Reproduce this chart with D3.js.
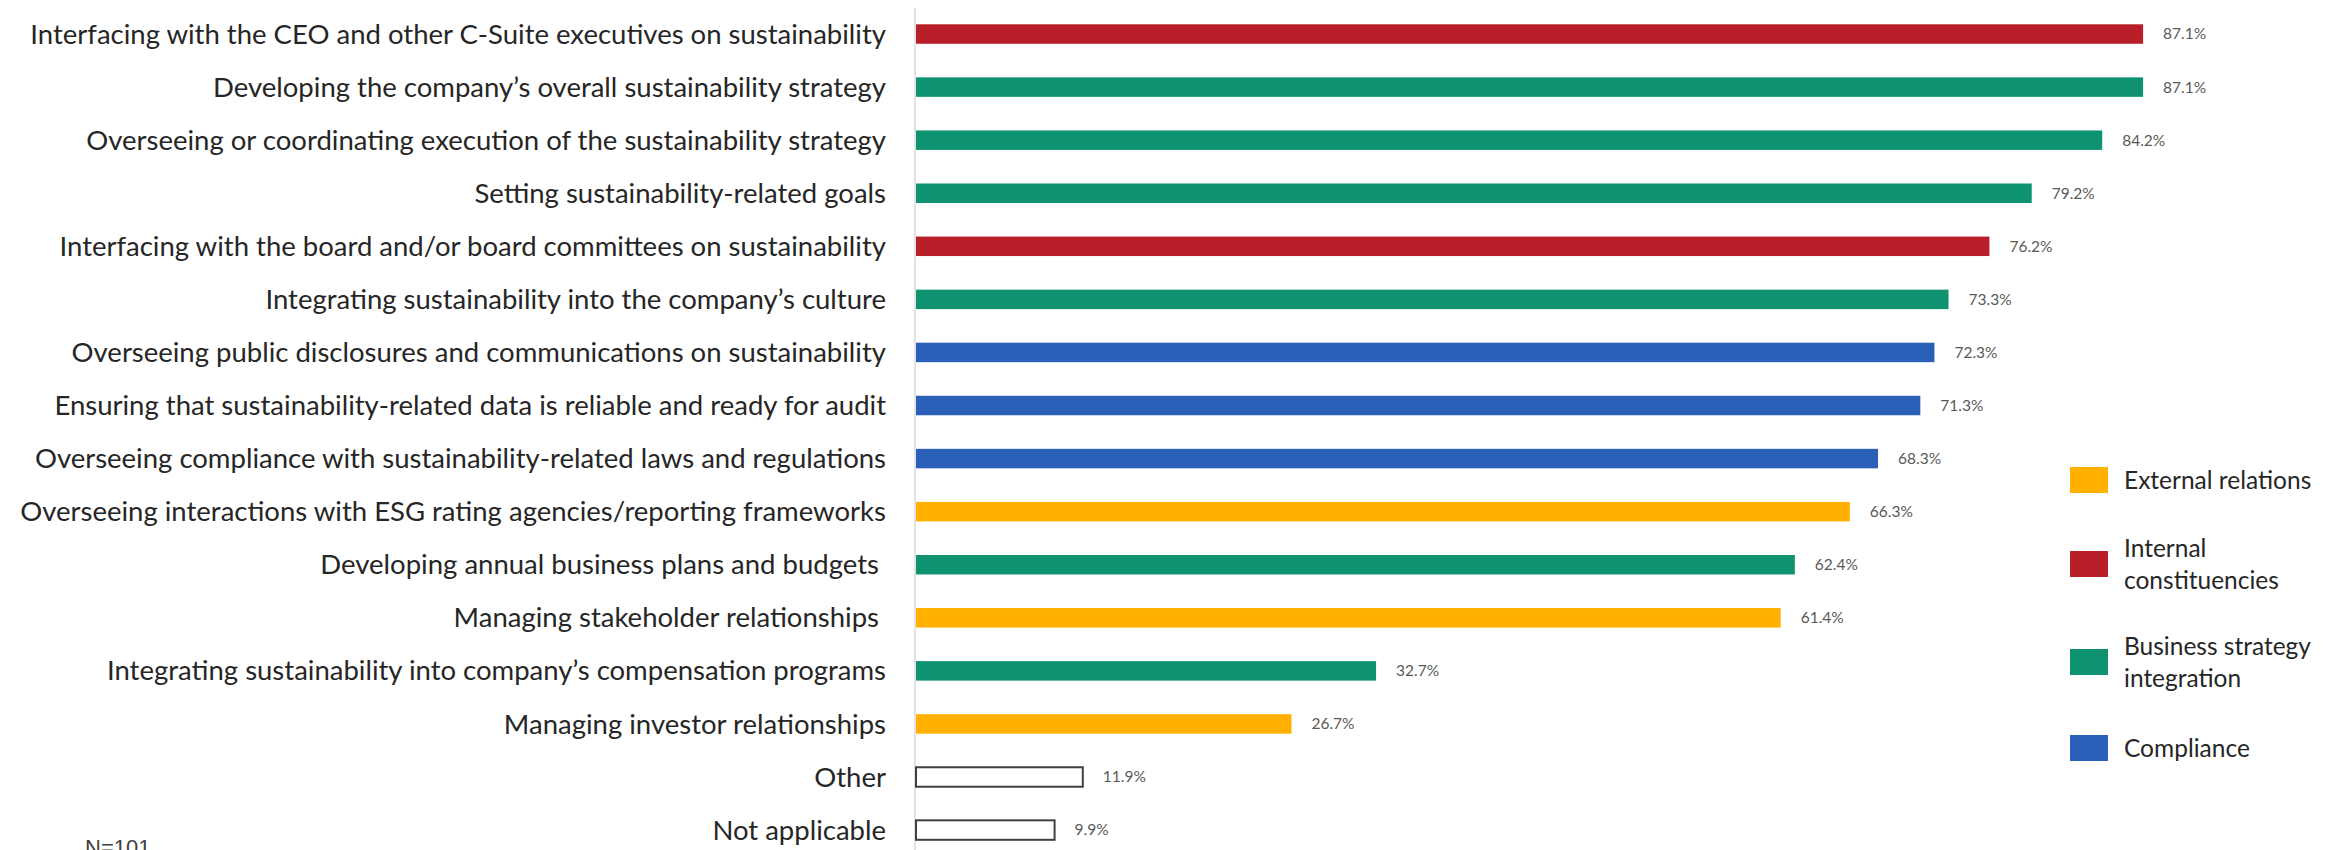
<!DOCTYPE html>
<html>
<head>
<meta charset="utf-8">
<script src="https://cdn.jsdelivr.net/npm/d3@7/dist/d3.min.js"></script>
<style>
  html, body { margin: 0; padding: 0; background: #fff; }
  svg { display: block; }
  text { white-space: pre; }
</style>
</head>
<body>
<svg id="chart" width="2343" height="850"></svg>
<script>
// Responsibilities of the sustainability lead, share of respondents (%)
const tasks = [
  "Interfacing with the CEO and other C-Suite executives on sustainability",
  "Developing the company\u2019s overall sustainability strategy",
  "Overseeing or coordinating execution of the sustainability strategy",
  "Setting sustainability-related goals",
  "Interfacing with the board and/or board committees on sustainability",
  "Integrating sustainability into the company\u2019s culture",
  "Overseeing public disclosures and communications on sustainability",
  "Ensuring that sustainability-related data is reliable and ready for audit",
  "Overseeing compliance with sustainability-related laws and regulations",
  "Overseeing interactions with ESG rating agencies/reporting frameworks",
  "Developing annual business plans and budgets ",
  "Managing stakeholder relationships ",
  "Integrating sustainability into company\u2019s compensation programs",
  "Managing investor relationships",
  "Other",
  "Not applicable"
];
const shares = [87.1, 87.1, 84.2, 79.2, 76.2, 73.3, 72.3, 71.3, 68.3, 66.3, 62.4, 61.4, 32.7, 26.7, 11.9, 9.9];
const groups = [
  "Internal constituencies", "Business strategy integration", "Business strategy integration",
  "Business strategy integration", "Internal constituencies", "Business strategy integration",
  "Compliance", "Compliance", "Compliance", "External relations", "Business strategy integration",
  "External relations", "Business strategy integration", "External relations", "None", "None"
];
const legendGroups = ["External relations", "Internal constituencies", "Business strategy integration", "Compliance"];
const legendLines = [["External relations"], ["Internal", "constituencies"], ["Business strategy", "integration"], ["Compliance"]];
const groupColors = ["#FFB000", "#B81F28", "#0E9270", "#2A60B8"];
const sampleNote = "N=101";

const rows = tasks.map((t, i) => ({ task: t, value: shares[i], group: groups[i] }));

const svg = d3.select("#chart");
const labelFont = "Lato, 'Open Sans', sans-serif";

const x = d3.scaleLinear().domain([0, 100]).range([915, 2325]);
const y = d3.scaleBand().domain(tasks).range([7.5, 856.6]).paddingInner(0.633).paddingOuter(0.3165);
const color = d3.scaleOrdinal().domain(legendGroups).range(groupColors).unknown("#fff");

// category axis: a plain vertical rule with labels to its left
const yAxis = d3.axisLeft(y).tickSize(0).tickPadding(29);
const gy = svg.append("g").attr("transform", `translate(${x(0)},0)`).call(yAxis);
gy.select(".domain").remove();
gy.selectAll("text")
  .attr("font-family", labelFont)
  .attr("font-size", 27.5)
  .attr("fill", "#262626")
  .attr("dy", "0.35em");

svg.append("line")
  .attr("x1", x(0)).attr("x2", x(0))
  .attr("y1", 8).attr("y2", 850)
  .attr("stroke", "#d9d9d9").attr("stroke-width", 1.5);

// bars
svg.append("g").selectAll("rect").data(rows).join("rect")
  .attr("x", x(0) + 1)
  .attr("y", d => y(d.task))
  .attr("width", d => x(d.value) - x(0) - 1)
  .attr("height", y.bandwidth())
  .attr("fill", d => color(d.group))
  .attr("stroke", d => d.group === "None" ? "#404040" : "none")
  .attr("stroke-width", 2);

// value labels
svg.append("g").selectAll("text").data(rows).join("text")
  .attr("x", d => x(d.value) + 20)
  .attr("y", d => y(d.task) + y.bandwidth() / 2)
  .attr("dy", "0.35em")
  .attr("font-family", labelFont)
  .attr("font-size", 15.5)
  .attr("fill", "#595959")
  .text(d => d.value.toFixed(1) + "%");

// legend
const legendY = [480, 564, 662, 748];
const lg = svg.append("g");
legendGroups.forEach((g, i) => {
  lg.append("rect")
    .attr("x", 2070).attr("y", legendY[i] - 13)
    .attr("width", 38).attr("height", 26)
    .attr("fill", color(g));
  const lines = legendLines[i];
  lines.forEach((ln, j) => {
    lg.append("text")
      .attr("x", 2124)
      .attr("y", legendY[i] + (j - (lines.length - 1) / 2) * 32)
      .attr("dy", "0.35em")
      .attr("font-family", labelFont)
      .attr("font-size", 24.5)
      .attr("fill", "#262626")
      .text(ln);
  });
});

svg.append("text")
  .attr("x", 85).attr("y", 855)
  .attr("font-family", "'Liberation Sans', Arial, sans-serif")
  .attr("font-size", 22)
  .attr("fill", "#404040")
  .text(sampleNote);
</script>
</body>
</html>
